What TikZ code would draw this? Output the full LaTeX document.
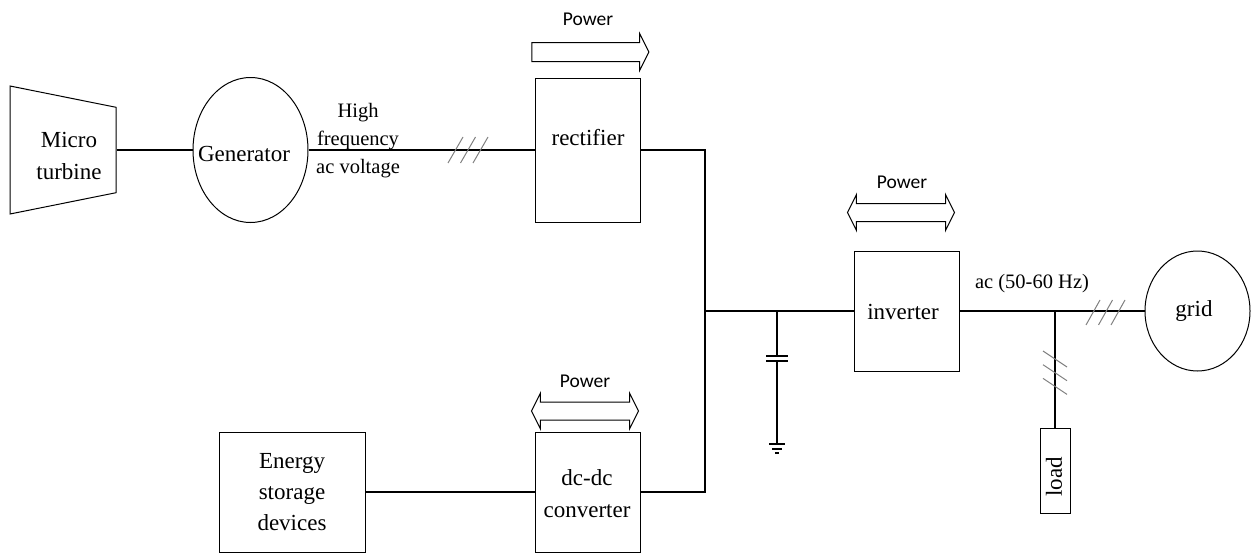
\documentclass[tikz,border=0pt]{standalone}
\usepackage{fontspec}
\setmainfont{Liberation Serif}
\newfontfamily\powerfont{Carlito}
\usetikzlibrary{shapes.geometric,shapes.arrows}
\tikzstyle{block}=[
	draw=black,
	shape=rectangle,
	line width=1pt,
	align=center,
	inner sep=0pt,
	font=\fontsize{23}{31}\selectfont
]
\tikzstyle{machine}=[
	draw=black,
	shape=ellipse,
	line width=1pt,
	inner sep=0pt
]
\tikzstyle{turbine}=[
	draw=black,
	shape=trapezium,
	shape border rotate=270,
	trapezium stretches=true,
	trapezium left angle=76,
	trapezium right angle=76,
	line width=1pt,
	minimum width=128pt,
	minimum height=106pt,
	inner sep=1pt
]
\tikzstyle{onearrow}=[
	draw=black,
	shape=single arrow,
	single arrow head extend=9pt,
	single arrow tip angle=127,
	single arrow head indent=0pt,
	line width=1pt,
	minimum width=36pt,
	inner sep=9pt
]
\tikzstyle{twoarrow}=[
	draw=black,
	shape=double arrow,
	double arrow head extend=9pt,
	double arrow tip angle=127,
	double arrow head indent=0pt,
	line width=1pt,
	minimum width=35pt,
	minimum height=107pt,
	inner sep=8.5pt
]
\tikzstyle{boxtext}=[font=\fontsize{23}{28}\selectfont,align=center,inner sep=0pt]
\tikzstyle{powerlabel}=[font=\powerfont\fontsize{19.5}{22}\selectfont,inner sep=0pt]
\tikzstyle{note}=[font=\fontsize{20.5}{28}\selectfont,align=center,inner sep=0pt]
\tikzstyle{wire} = [draw,line width=1.1pt,-]
\tikzstyle{tick} = [draw,gray,line width=1pt,-]
\tikzstyle{plate} = [draw,line width=2.4pt,-]

\begin{document}
\begin{tikzpicture}[x=1pt,y=-1pt]
			\useasboundingbox (0,0) rectangle (1251,554);

			\node[turbine]	(turbine) at (63,150) {};
			\node[machine,minimum width=115pt,minimum height=145pt]	(gen) [right of=turbine,node distance=187.5pt] {};
			\node[block,minimum width=105pt,minimum height=144pt]	(rect) [right of=gen,node distance=337pt] {};
			\node[block,minimum width=105.5pt,minimum height=120pt]	(inv) at (907,311) {};
			\node[machine,minimum width=105pt,minimum height=120pt]	(grid) [right of=inv,node distance=290.5pt] {};
			\node[block,minimum width=105pt,minimum height=120pt]	(dcdc) at (587.5,492) {};
			\node[block,minimum width=146pt,minimum height=120pt]	(store) [left of=dcdc,node distance=295.5pt] {Energy\\storage\\devices};
			\node[block,minimum width=30pt,minimum height=85pt]	(load) at (1055,470.5) {};

			% box texts sit off centre
			\node[boxtext,font=\fontsize{23}{32}\selectfont]	(turbinetext) at (69,156) {Micro\\turbine};
			\node[boxtext]	(gentext) at (244,154) {Generator};
			\node[boxtext]	(recttext) at (588,138) {rectifier};
			\node[boxtext]	(invtext) at (903,312) {inverter};
			\node[boxtext]	(gridtext) at (1194,311) {grid};
			\node[boxtext,font=\fontsize{23}{32}\selectfont]	(dcdctext) at (587,494) {dc-dc\\converter};
			\node[boxtext,rotate=90]	(loadtext) at (1054,477) {load};

			\node[note]	(hf) at (358,141) {High\\frequency\\ac voltage};
			\node[note]	(ac) at (1032,284) {ac (50-60 Hz)};

			\node[onearrow,minimum height=117pt]	(flowrect) at (588,52) {};
			\node[powerlabel]	(powrect) at (588,19) {Power};
			\node[twoarrow]	(flowinv) at (901,212.5) {};
			\node[powerlabel]	(powinv) at (902,182) {Power};
			\node[twoarrow]	(flowdc) at (585,411) {};
			\node[powerlabel]	(powdc) at (585,381) {Power};

			\coordinate	(bustop) at (705,150);
			\coordinate	(busmid) at (705,311);
			\coordinate	(capnode) at (777,311);
			\coordinate	(plateup) at (777,356);
			\coordinate	(platedn) at (777,361);
			\coordinate	(earth) at (777,444);
			\coordinate	(loadnode) at (1055,311);

			\path[wire]
				(turbine.top side) -- (gen.west)
				(gen.east) -- (rect.west)
				(rect.east) -- (bustop) |- (dcdc.east)
				(store.east) -- (dcdc.west)
				(busmid) -- (inv.west)
				(inv.east) -- (grid.west)
				(capnode) -- (plateup)
				(platedn) -- (earth)
				(loadnode) -- (load.north);

			\path[plate]
				([xshift=-11pt]plateup) -- ([xshift=11pt]plateup)
				([xshift=-11pt]platedn) -- ([xshift=11pt]platedn);

			\draw[line width=2pt] ([yshift=26pt]earth) -- (earth);
			\draw[line width=1.5pt] ([xshift=-8pt]earth) -- ([xshift=8pt]earth);
			\draw[line width=1.5pt] ([xshift=-5pt,yshift=-5pt]earth) -- ([xshift=5pt,yshift=-5pt]earth);
			\draw[line width=1.5pt] ([xshift=-2pt,yshift=-9pt]earth) -- ([xshift=2pt,yshift=-9pt]earth);

			\foreach \i in {0,1,2} {
				\path[tick] (448+12.5*\i,163) -- ++(15,-26);
				\path[tick] (1086+12.5*\i,325) -- ++(14,-25);
				\path[tick] (1043,351+13.7*\i) -- ++(24,16);
			}

			\end{tikzpicture}
\end{document}
